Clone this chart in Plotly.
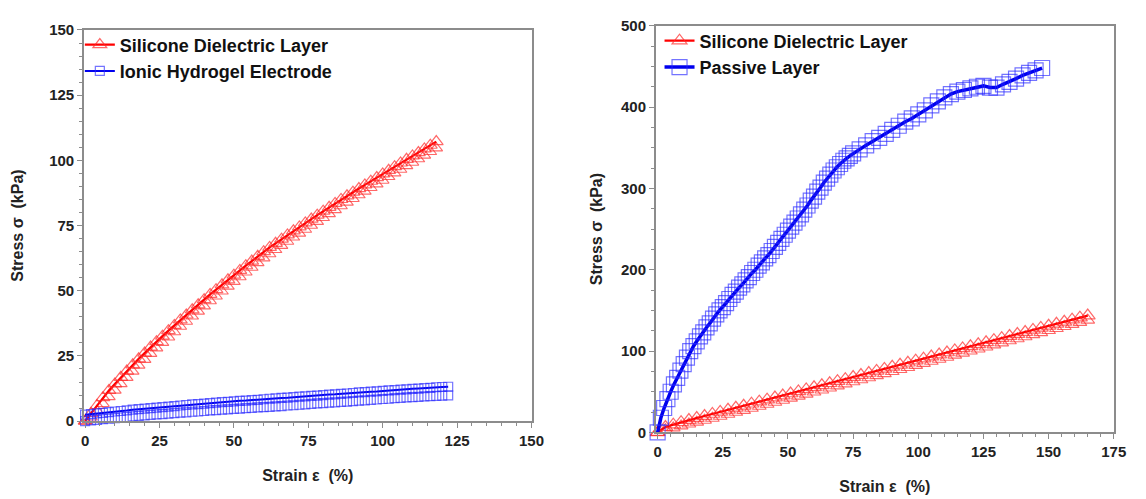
import plotly.graph_objects as go

# ---------------- Left panel data ----------------
left_sil_strain = [0, 2, 4, 6, 8, 10, 12, 14, 16, 18, 20, 22, 24, 26, 28, 30, 32, 34, 36, 38,
                   40, 42, 44, 46, 48, 50, 52, 54, 56, 58, 60, 62, 64, 66, 68, 70, 72, 74, 76, 78,
                   80, 82, 84, 86, 88, 90, 92, 94, 96, 98, 100, 102, 104, 106, 108, 110, 112, 114, 116, 118]
left_sil_stress = [0, 3.0, 6.0, 9.0, 11.8, 14.3, 16.8, 19.2, 21.6, 23.9, 26.1, 28.4, 30.5, 32.6, 34.7,
                   36.7, 38.8, 40.7, 42.7, 44.6, 46.6, 48.6, 50.4, 52.3, 54.2, 56.0, 57.8, 59.6, 61.4,
                   63.2, 65.0, 66.6, 68.2, 69.8, 71.4, 73.0, 74.5, 76.0, 77.5, 79.0, 80.5, 82.0, 83.5,
                   85.0, 86.4, 87.8, 89.2, 90.6, 92.0, 93.4, 94.8, 96.2, 97.6, 99.0, 100.4, 101.7,
                   103.0, 104.4, 105.8, 107.2]
left_sil_stress_lower = [0, 1.5, 4.0, 6.7, 9.3, 11.8, 14.3, 16.7, 19.1, 21.4, 23.6, 25.9, 28.0, 30.1,
                         32.2, 34.2, 36.3, 38.2, 40.2, 42.1, 44.1, 46.1, 47.9, 49.8, 51.7, 53.5, 55.3,
                         57.1, 58.9, 60.7, 62.5, 64.1, 65.7, 67.3, 68.9, 70.5, 72.0, 73.5, 75.0, 76.5,
                         78.0, 79.5, 81.0, 82.5, 83.9, 85.3, 86.7, 88.1, 89.5, 90.9, 92.3, 93.7, 95.1,
                         96.5, 97.9, 99.2, 100.5, 101.9, 103.3, 104.7]

hydro_strain = [0, 2, 4, 6, 8, 10, 12, 14, 16, 18, 20, 22, 24, 26, 28, 30, 32, 34, 36, 38, 40,
                42, 44, 46, 48, 50, 52, 54, 56, 58, 60, 62, 64, 66, 68, 70, 72, 74, 76, 78, 80,
                82, 84, 86, 88, 90, 92, 94, 96, 98, 100, 102, 104, 106, 108, 110, 112, 114, 116,
                118, 120, 122]
hydro_stress_upper = [2.5, 2.7, 3.0, 3.2, 3.5, 3.7, 3.9, 4.1, 4.4, 4.6, 4.8, 5.0, 5.2, 5.4, 5.6, 5.8,
                      6.0, 6.2, 6.4, 6.5, 6.7, 6.9, 7.1, 7.3, 7.4, 7.6, 7.8, 7.9, 8.1, 8.2, 8.4, 8.6,
                      8.7, 8.9, 9.0, 9.2, 9.4, 9.5, 9.7, 9.8, 10.0, 10.2, 10.3, 10.5, 10.6, 10.8,
                      11.0, 11.1, 11.3, 11.4, 11.6, 11.8, 11.9, 12.1, 12.2, 12.4, 12.5, 12.7, 12.8,
                      13.0, 13.1, 13.2]
hydro_stress_lower = [0.0, 0.3, 0.5, 0.8, 1.0, 1.2, 1.4, 1.6, 1.8, 2.0, 2.2, 2.4, 2.6, 2.7, 2.9, 3.1,
                      3.3, 3.4, 3.6, 3.7, 3.9, 4.1, 4.2, 4.4, 4.5, 4.7, 4.8, 5.0, 5.1, 5.3, 5.4, 5.5,
                      5.7, 5.8, 6.0, 6.1, 6.3, 6.4, 6.6, 6.8, 6.9, 7.1, 7.2, 7.4, 7.5, 7.7, 7.9, 8.0,
                      8.2, 8.3, 8.5, 8.6, 8.8, 8.9, 9.1, 9.2, 9.3, 9.5, 9.6, 9.7, 9.8, 9.9]

# ---------------- Right panel data ----------------
right_sil_strain = [0, 3, 6, 9, 12, 15, 18, 21, 24, 27, 30, 33, 36, 39, 42, 45, 48, 51, 54, 57,
                    60, 63, 66, 69, 72, 75, 78, 81, 84, 87, 90, 93, 96, 99, 102, 105, 108, 111,
                    114, 117, 120, 123, 126, 129, 132, 135, 138, 141, 144, 147, 150, 153, 156,
                    159, 162, 165]
right_sil_stress = [0, 6.5, 9.5, 12.5, 15.1, 17.6, 20.1, 22.6, 25.2, 27.7, 30.2, 32.7, 35.2, 37.8,
                    40.3, 42.8, 45.3, 47.8, 50.4, 52.9, 55.4, 57.9, 60.4, 63.0, 65.5, 68.0, 70.5,
                    73.0, 75.6, 78.1, 80.6, 83.1, 85.6, 88.2, 90.7, 93.2, 95.7, 98.2, 100.8, 103.3,
                    105.8, 108.3, 110.8, 113.4, 115.9, 118.4, 120.9, 123.4, 126.0, 128.5, 131.0,
                    133.5, 136.0, 138.6, 141.1, 143.6]
right_sil_stress_lower = [0, 3.5, 5.5, 8.0, 10.3, 12.6, 15.0, 17.4, 19.8, 22.3, 24.7, 27.1, 29.6,
                          32.1, 34.6, 37.1, 39.6, 42.1, 44.6, 47.1, 49.6, 52.1, 54.6, 57.2, 59.7,
                          62.2, 64.7, 67.2, 69.8, 72.3, 74.8, 77.3, 79.8, 82.4, 84.9, 87.4, 89.9,
                          92.4, 95.0, 97.5, 100.0, 102.5, 105.0, 107.6, 110.1, 112.6, 115.1, 117.6,
                          120.2, 122.7, 125.2, 127.7, 130.2, 132.8, 135.3, 138.0]

passive_strain = [0, 1.25, 2.5, 3.75, 5, 6.25, 7.5, 8.75, 10, 11.25, 12.5, 13.75, 15, 16.25, 17.5,
                  18.75, 20, 21.25, 22.5, 23.75, 25, 26.25, 27.5, 28.75, 30, 31.25, 32.5, 33.75,
                  35, 36.25, 37.5, 38.75, 40, 41.25, 42.5, 43.75, 45, 46.25, 47.5, 48.75, 50,
                  51.25, 52.5, 53.75, 55, 56.25, 57.5, 58.75, 60, 61.25, 62.5, 63.75, 65, 66.25,
                  67.5, 68.75, 70, 71.25, 72.5, 73.75, 75, 77.5, 80, 82.5, 85, 87.5, 90, 92.5, 95,
                  97.5, 100, 102.5, 105, 107.5, 110, 112.5, 115, 117.5, 120, 122.5, 125, 127.5,
                  130, 132.5, 135, 137.5, 140, 142.5, 145, 147.5]
passive_stress = [0, 18, 30, 41, 50, 59, 67, 76, 84, 92, 100, 106, 112, 118, 123, 129, 134, 140,
                  145, 150, 154, 159, 164, 169, 173, 178, 182, 187, 191, 196, 200, 205, 209, 214,
                  218, 223, 228, 233, 238, 243, 248, 253, 258, 263, 268, 274, 279, 285, 290, 296,
                  301, 307, 312, 317, 322, 326, 330, 334, 337, 340, 343, 348, 353, 358, 362, 367,
                  372, 377, 382, 386, 391, 396, 402, 407, 412, 416, 419, 421, 423, 425, 426, 424,
                  424, 428, 431, 435, 439, 442, 445, 448]

x_title = "Strain ε  (%)"
y_title = "Stress σ  (kPa)"

RED_LINE = "#ff0000"
RED_MK = "rgba(255,40,40,0.7)"
BLUE_LINE = "#0000ee"
BLUE_MK = "rgba(40,40,255,0.65)"

FONT = "Liberation Sans, Arial, sans-serif"
TITLE_FONT = dict(family=FONT, size=16, color="#222222", weight="bold")

fig = go.Figure()

# left panel
fig.add_trace(go.Scatter(
    x=left_sil_strain, y=left_sil_stress_lower, mode="markers",
    name="Silicone Dielectric Layer", legend="legend", showlegend=False,
    marker=dict(symbol="triangle-up-open", size=11, color=RED_MK, line=dict(width=1.1)),
    xaxis="x", yaxis="y", cliponaxis=False))
fig.add_trace(go.Scatter(
    x=left_sil_strain, y=left_sil_stress, mode="lines+markers",
    name="Silicone Dielectric Layer", legend="legend",
    line=dict(color=RED_LINE, width=2.2),
    marker=dict(symbol="triangle-up-open", size=12, color=RED_MK, line=dict(width=1.2)),
    xaxis="x", yaxis="y", cliponaxis=False))
fig.add_trace(go.Scatter(
    x=hydro_strain, y=hydro_stress_lower, mode="markers",
    name="Ionic Hydrogel Electrode", legend="legend", showlegend=False,
    marker=dict(symbol="square-open", size=9, color=BLUE_MK, line=dict(width=1.2)),
    xaxis="x", yaxis="y", cliponaxis=False))
fig.add_trace(go.Scatter(
    x=hydro_strain, y=hydro_stress_upper, mode="lines+markers",
    name="Ionic Hydrogel Electrode", legend="legend",
    line=dict(color=BLUE_LINE, width=2),
    marker=dict(symbol="square-open", size=9, color=BLUE_MK, line=dict(width=1.2)),
    xaxis="x", yaxis="y", cliponaxis=False))

# right panel
fig.add_trace(go.Scatter(
    x=right_sil_strain, y=right_sil_stress_lower, mode="markers",
    name="Silicone Dielectric Layer", legend="legend2", showlegend=False,
    marker=dict(symbol="triangle-up-open", size=12, color=RED_MK, line=dict(width=1.1)),
    xaxis="x2", yaxis="y2", cliponaxis=False))
fig.add_trace(go.Scatter(
    x=right_sil_strain, y=right_sil_stress, mode="lines+markers",
    name="Silicone Dielectric Layer", legend="legend2",
    line=dict(color=RED_LINE, width=2.2),
    marker=dict(symbol="triangle-up-open", size=13, color=RED_MK, line=dict(width=1.2)),
    xaxis="x2", yaxis="y2", cliponaxis=False))
fig.add_trace(go.Scatter(
    x=passive_strain, y=passive_stress, mode="lines+markers",
    name="Passive Layer", legend="legend2",
    line=dict(color=BLUE_LINE, width=3.5),
    marker=dict(symbol="square-open", size=15, color=BLUE_MK, line=dict(width=1.2)),
    xaxis="x2", yaxis="y2", cliponaxis=False))

axis_common = dict(
    showline=True, linecolor="#8c8c8c", linewidth=1.5, mirror=True,
    ticks="outside", ticklen=5, tickwidth=1.2, tickcolor="#8c8c8c",
    showgrid=False, zeroline=False,
    tickfont=dict(family=FONT, size=15, color="#222222", weight="bold"),
)
minor_x = dict(dtick=5, tick0=0, ticks="outside", ticklen=3, tickcolor="#8c8c8c")

fig.update_layout(
    width=1146, height=499,
    margin=dict(l=0, r=0, t=0, b=0),
    paper_bgcolor="white", plot_bgcolor="white",
    showlegend=True,
    xaxis=dict(**axis_common, domain=[0.0716, 0.4677], range=[-0.4, 150],
               tickvals=[0, 25, 50, 75, 100, 125, 150], minor=minor_x,
               title=dict(text=x_title, standoff=22, font=TITLE_FONT),
               anchor="y"),
    yaxis=dict(**axis_common, domain=[0.1449, 0.9565], range=[0, 150],
               tickvals=[0, 25, 50, 75, 100, 125, 150], minor=minor_x,
               title=dict(text=y_title, standoff=22, font=TITLE_FONT),
               anchor="x"),
    xaxis2=dict(**axis_common, domain=[0.5777, 0.9830], range=[-0.7, 175],
                tickvals=[0, 25, 50, 75, 100, 125, 150, 175], minor=minor_x,
                title=dict(text=x_title, standoff=22, font=TITLE_FONT),
                anchor="y2"),
    yaxis2=dict(**axis_common, domain=[0.1216, 0.9653], range=[0, 500],
                tickvals=[0, 100, 200, 300, 400, 500],
                minor=dict(dtick=25, tick0=0, ticks="outside", ticklen=3, tickcolor="#8c8c8c"),
                title=dict(text=y_title, standoff=14, font=TITLE_FONT),
                anchor="x2"),
    legend=dict(x=0.068, y=0.964, xanchor="left", yanchor="top",
                bgcolor="rgba(0,0,0,0)", borderwidth=0, itemwidth=30, tracegroupgap=0,
                font=dict(family=FONT, size=18, color="#111111", weight="bold")),
    legend2=dict(x=0.581, y=0.972, xanchor="left", yanchor="top",
                 bgcolor="rgba(0,0,0,0)", borderwidth=0, itemwidth=30, tracegroupgap=0,
                 font=dict(family=FONT, size=18, color="#111111", weight="bold")),
)

fig.write_html("out.html")
